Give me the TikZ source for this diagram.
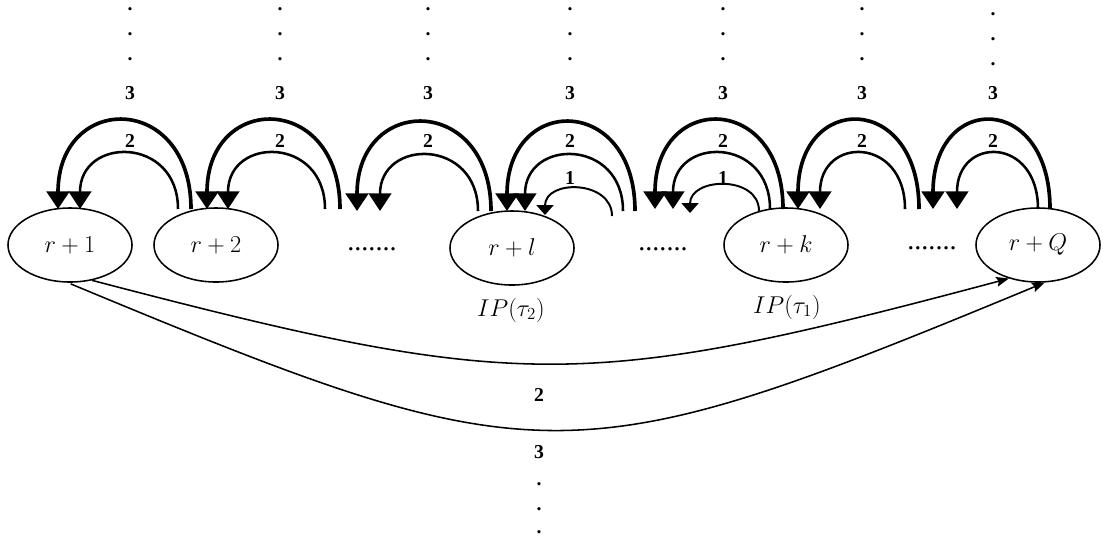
\documentclass[tikz,border=0pt]{standalone}
\usepackage[no-math]{fontspec}
\usetikzlibrary{shapes.geometric,arrows.meta}
\newfontfamily\numfont{Liberation Serif}

\begin{document}
\begin{tikzpicture}[x=0.025cm,y=-0.025cm,
  state/.style={ellipse,draw,line width=1.1pt,minimum width=3.1cm,minimum height=1.85cm,
    inner sep=0pt,font=\fontsize{18}{21}\selectfont},
  txt/.style={font=\fontsize{18}{21}\selectfont},
  gap/.style={inner sep=0pt,font=\numfont\fontsize{20}{22}\selectfont},
  num/.style={font=\numfont\fontsize{14}{16}\selectfont\bfseries},
  dot/.style={inner sep=0pt,font=\numfont\fontsize{14}{16}\selectfont\bfseries},
  arcthree/.style={-{Triangle[width=16pt,length=12.5pt]},line width=2.6pt},
  arctwo/.style={-{Triangle[width=16pt,length=12.5pt]},line width=1.8pt},
  arcone/.style={-{Triangle[width=12pt,length=7pt]},line width=1.4pt},
  jump/.style={-{Stealth[width=7pt,length=9pt,inset=1.5pt]},line width=1.1pt}]
  \useasboundingbox (0,0) rectangle (1103,542);

  % states
  \node[state] (r1) at (70,245) {$r+1$};
  \node[state] (r2) at (216,245) {$r+2$};
  \node[state] (rl) at (512,248) {$r+l$};
  \node[state] (rk) at (786,245) {$r+k$};
  \node[state] (rQ) at (1038,245) {$r+Q$};

  \node[gap] (d1) at (372,249) {.......};
  \node[gap] (d2) at (663,249) {.......};
  \node[gap] (d3) at (932,248) {.......};

  \node[txt] (ip2) at (511,310) {$IP(\tau_2)$};
  \node[txt] (ip1) at (787,307) {$IP(\tau_1)$};

  % backward arches: group/label x/ends of 3/ends of 2/base/dot shift
  \foreach \g/\lx/\sa/\ea/\sb/\eb/\b/\dd in {
      1/130/191/58/178/80/209/0, 2/280/340/207/325/228/209/0,
      3/428/491/357/478/380/211/0, 4/570/635/507/623/525/211/0,
      5/723/783/655/770/673/209/0, 6/862/919/798/905/820/209/0,
      7/993/1050/933/1038/957/209/5} {
    \coordinate (t\g) at (\sa,\b);  \coordinate (T\g) at (\ea,\b);
    \coordinate (u\g) at (\sb,\b);  \coordinate (U\g) at (\eb,\b);
    \draw[arcthree] (t\g) .. controls +(0,-117) and +(0,-117) .. (T\g);
    \draw[arctwo] (u\g) .. controls +(0,-73) and +(0,-73) .. (U\g);
    \node[num] (three\g) at (\lx,93) {3};
    \node[num] (two\g) at (\lx,141) {2};
    \foreach \k/\dy in {1/9,2/34,3/59}
      \node[dot] (dot\g\k) at (\lx,\dy+\dd) {.};
  }

  % one-step arches
  \coordinate (v4) at (612,216); \coordinate (V4) at (545,215);
  \coordinate (v5) at (759,211); \coordinate (V5) at (690,213);
  \draw[arcone] (v4) .. controls +(0,-36) and +(0,-36) .. (V4);
  \draw[arcone] (v5) .. controls +(0,-36) and +(0,-36) .. (V5);
  \node[num] (one4) at (570,178) {1};
  \node[num] (one5) at (723,178) {1};

  % forward jumps from r+1 to r+Q
  \draw[jump] (r1.-58) .. controls (519,392) and (583,392) .. (rQ.229);
  \draw[jump,shorten <=2pt] (r1.-93) .. controls (540,479) and (570,479) .. (rQ.-80);

  \node[num] (two0) at (539,395) {2};
  \node[num] (three0) at (539,452) {3};
  \foreach \k/\dy in {1/484,2/509,3/532}
    \node[dot] (dot0\k) at (539,\dy) {.};
\end{tikzpicture}
\end{document}
